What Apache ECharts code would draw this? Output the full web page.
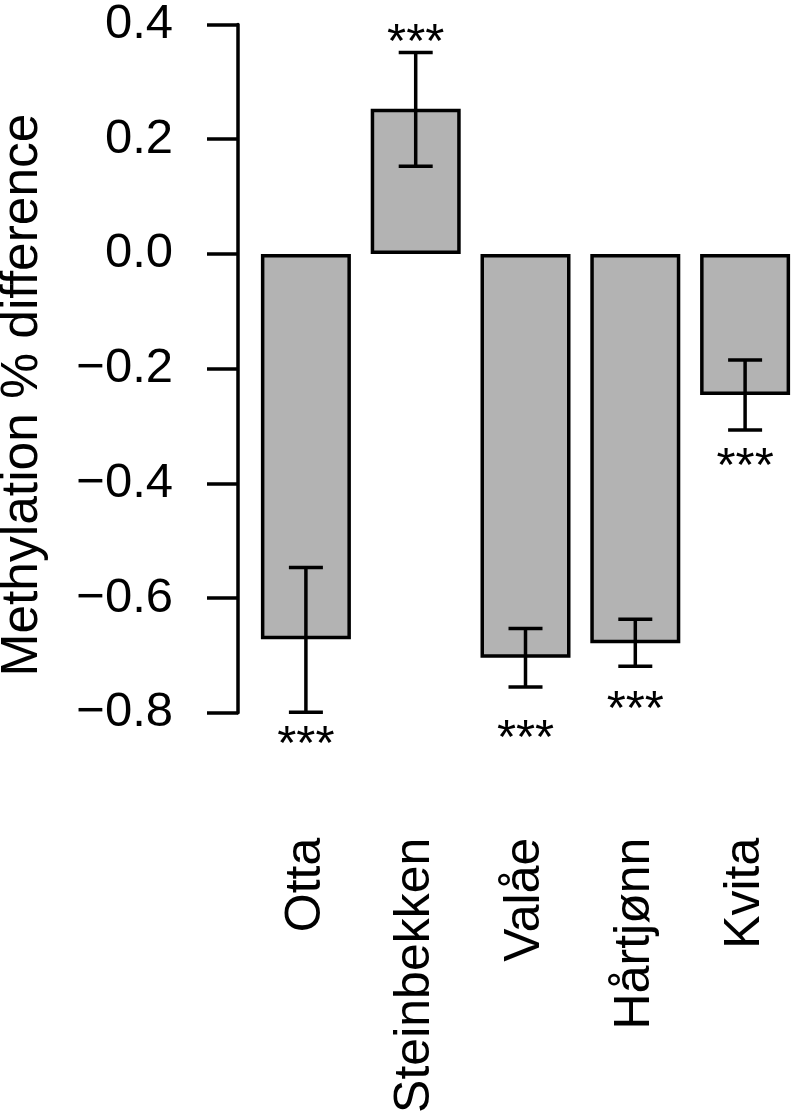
<!DOCTYPE html>
<html>
<head>
<meta charset="utf-8">
<script src="https://cdn.jsdelivr.net/npm/echarts@6/dist/echarts.min.js"></script>
<style>html,body{margin:0;padding:0;background:#fff;}#c{width:800px;height:1119px;}</style>
</head>
<body>
<div id="c"></div>
<script>
const categories = ['Otta', 'Steinbekken', 'Valåe', 'Hårtjønn', 'Kvita'];
const meanDiff = [-0.672, 0.253, -0.704, -0.679, -0.246];
const errLow = [-0.799, 0.153, -0.755, -0.719, -0.307];
const errHigh = [-0.547, 0.351, -0.653, -0.637, -0.185];
const starLabels = ['***', '***', '***', '***', '***'];
const starY = [-0.839, 0.385, -0.828, -0.778, -0.354];
const yTicks = [-0.8, -0.6, -0.4, -0.2, 0.0, 0.2, 0.4];

const FONT = "'Liberation Sans', Arial, sans-serif";
const chart = echarts.init(document.getElementById('c'), null, {renderer: 'canvas'});

const errData = categories.map((c, i) => [i, errLow[i], errHigh[i]]);
const starData = categories.map((c, i) => [i, starY[i], starLabels[i]]);

chart.setOption({
  backgroundColor: '#ffffff',
  animation: false,
  grid: {left: 251, width: 556, top: 19.5, height: 693.2},
  xAxis: {
    type: 'category',
    data: categories,
    axisLine: {show: false, onZero: false},
    axisTick: {show: false},
    axisLabel: {rotate: 90, margin: 125, fontSize: 50, color: '#000', fontFamily: FONT, interval: 0}
  },
  yAxis: {
    type: 'value',
    min: yTicks[0],
    max: yTicks[yTicks.length - 1],
    interval: 0.2,
    offset: 13,
    splitLine: {show: false},
    axisLine: {show: true, lineStyle: {color: '#000', width: 3.5}},
    axisTick: {show: true, length: 31, lineStyle: {color: '#000', width: 3.5}},
    axisLabel: {
      margin: 65, fontSize: 49, color: '#000', fontFamily: FONT,
      formatter: v => (Math.round(v * 10) / 10).toFixed(1).replace('-', '\u2212')
    }
  },
  graphic: [{
    type: 'text',
    x: 22.5, y: 395,
    rotation: Math.PI / 2,
    style: {text: 'Methylation % difference', fontSize: 51.5, fontFamily: FONT, fill: '#000', align: 'center', verticalAlign: 'middle'}
  }],
  series: [
    {
      type: 'bar',
      data: meanDiff,
      barWidth: 90,
      itemStyle: {color: '#b3b3b3', borderColor: '#000', borderWidth: 3.5}
    },
    {
      type: 'custom',
      data: errData,
      z: 5,
      renderItem: function (params, api) {
        const x = api.value(0);
        const lo = api.coord([x, api.value(1)]);
        const hi = api.coord([x, api.value(2)]);
        const hw = 17;
        const st = {stroke: '#000', lineWidth: 3.5};
        return {type: 'group', children: [
          {type: 'line', shape: {x1: lo[0], y1: lo[1], x2: hi[0], y2: hi[1]}, style: st},
          {type: 'line', shape: {x1: lo[0] - hw, y1: lo[1], x2: lo[0] + hw, y2: lo[1]}, style: st},
          {type: 'line', shape: {x1: hi[0] - hw, y1: hi[1], x2: hi[0] + hw, y2: hi[1]}, style: st}
        ]};
      }
    },
    {
      type: 'custom',
      data: starData,
      z: 6,
      renderItem: function (params, api) {
        const p = api.coord([api.value(0), api.value(1)]);
        return {type: 'text', x: p[0], y: p[1] + 10.5,
          style: {text: starLabels[params.dataIndex], fontSize: 49, fontFamily: FONT, fill: '#000', align: 'center', verticalAlign: 'middle'}};
      }
    }
  ]
});
</script>
</body>
</html>
